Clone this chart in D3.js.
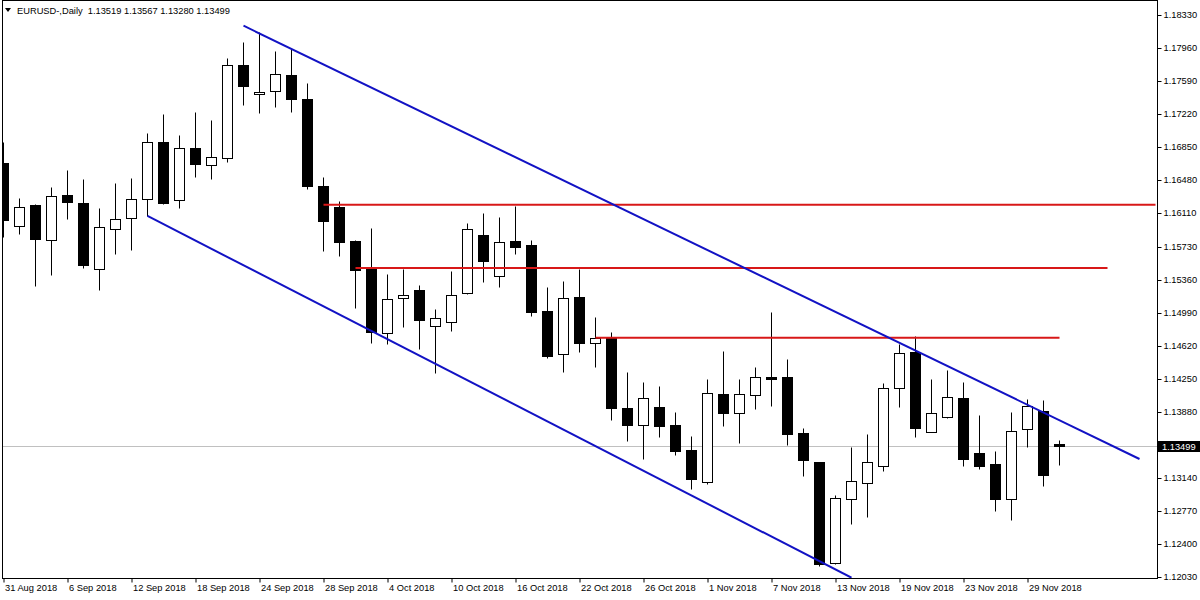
<!DOCTYPE html>
<html><head><meta charset="utf-8">
<script src="https://cdn.jsdelivr.net/npm/d3@7"></script>
<style>
html,body{margin:0;padding:0;background:#fff;overflow:hidden;}
svg{display:block;}
text{font-family:"Liberation Sans",Arial,sans-serif;font-size:9.3px;fill:#000;}
</style></head><body>
<svg id="chart" width="1200" height="600"></svg>
<script>
// ---- data ----
const dates = ["31 Aug 2018",
 "3 Sep 2018","4 Sep 2018","5 Sep 2018","6 Sep 2018","7 Sep 2018","10 Sep 2018","11 Sep 2018","12 Sep 2018","13 Sep 2018","14 Sep 2018",
 "17 Sep 2018","18 Sep 2018","19 Sep 2018","20 Sep 2018","21 Sep 2018","24 Sep 2018","25 Sep 2018","26 Sep 2018","27 Sep 2018","28 Sep 2018",
 "1 Oct 2018","2 Oct 2018","3 Oct 2018","4 Oct 2018","5 Oct 2018","8 Oct 2018","9 Oct 2018","10 Oct 2018","11 Oct 2018","12 Oct 2018",
 "15 Oct 2018","16 Oct 2018","17 Oct 2018","18 Oct 2018","19 Oct 2018","22 Oct 2018","23 Oct 2018","24 Oct 2018","25 Oct 2018","26 Oct 2018",
 "29 Oct 2018","30 Oct 2018","31 Oct 2018","1 Nov 2018","2 Nov 2018","5 Nov 2018","6 Nov 2018","7 Nov 2018","8 Nov 2018","9 Nov 2018",
 "12 Nov 2018","13 Nov 2018","14 Nov 2018","15 Nov 2018","16 Nov 2018","19 Nov 2018","20 Nov 2018","21 Nov 2018","22 Nov 2018","23 Nov 2018",
 "26 Nov 2018","27 Nov 2018","28 Nov 2018","29 Nov 2018","30 Nov 2018","3 Dec 2018"];
const open  = [1.16668,1.15968,1.16200,1.15811,1.16309,1.16223,1.15486,1.15934,1.16058,1.16262,
 1.16903,1.16251,1.16839,1.16643,1.16724,1.17770,1.17441,1.17481,1.17654,1.17385,
 1.16413,1.16174,1.15797,1.15491,1.14762,1.15154,1.15247,1.14847,1.14892,1.15217,
 1.15864,1.15408,1.15797,1.15752,1.15012,1.14526,1.15169,1.14650,1.14711,1.13925,
 1.13737,1.13936,1.13734,1.13454,1.13098,1.14081,1.13872,1.14074,1.14269,1.14272,
 1.13644,1.13319,1.12190,1.12908,1.13080,1.13271,1.14145,1.14552,1.13652,1.13827,
 1.14037,1.13420,1.13297,1.12901,1.13686,1.13891,1.13519];
const high  = [1.16910,1.16275,1.16211,1.16402,1.16592,1.16492,1.16163,1.16447,1.16499,1.17004,
 1.17220,1.16981,1.17243,1.17153,1.17846,1.18027,1.18136,1.17926,1.17960,1.17568,
 1.16514,1.16242,1.15808,1.15939,1.15423,1.15483,1.15303,1.15034,1.15460,1.16002,
 1.16110,1.16066,1.16192,1.15804,1.15281,1.15348,1.15486,1.14945,1.14773,1.14328,
 1.14216,1.14171,1.13880,1.13614,1.14250,1.14563,1.14250,1.14384,1.15001,1.14474,
 1.13700,1.13319,1.12949,1.13487,1.13630,1.14205,1.14639,1.14728,1.14250,1.14350,
 1.14216,1.13846,1.13442,1.13880,1.14025,1.14014,1.13567];
const low   = [1.15845,1.15878,1.15295,1.15415,1.16043,1.15497,1.15247,1.15651,1.15696,1.16077,
 1.16206,1.16170,1.16517,1.16495,1.16686,1.17324,1.17235,1.17302,1.17246,1.16383,
 1.15688,1.15632,1.15049,1.14650,1.14639,1.14836,1.14586,1.14320,1.14791,1.15206,
 1.15340,1.15281,1.15654,1.14959,1.14488,1.14331,1.14556,1.14387,1.13793,1.13558,
 1.13356,1.13603,1.13401,1.13020,1.13073,1.13726,1.13532,1.13917,1.13947,1.13513,
 1.13166,1.12157,1.12172,1.12628,1.12706,1.13222,1.13939,1.13596,1.13650,1.13816,
 1.13278,1.13244,1.12773,1.12672,1.13491,1.13054,1.13280];
const close = [1.16032,1.16174,1.15819,1.16298,1.16237,1.15528,1.15950,1.16040,1.16264,1.16903,
 1.16226,1.16836,1.16663,1.16736,1.17767,1.17537,1.17467,1.17665,1.17388,1.16408,
 1.16024,1.15782,1.15468,1.14780,1.15143,1.15188,1.14914,1.14930,1.15188,1.15928,
 1.15576,1.15785,1.15733,1.15004,1.14511,1.15155,1.14648,1.14706,1.13928,1.13737,
 1.14037,1.13726,1.13446,1.13132,1.14089,1.13872,1.14078,1.14269,1.14253,1.13633,
 1.13345,1.12176,1.12912,1.13103,1.13316,1.14145,1.14538,1.13704,1.13865,1.14044,
 1.13356,1.13278,1.12908,1.13663,1.13944,1.13177,1.13499];
const yTickValues = [1.18330,1.17960,1.17590,1.17220,1.16850,1.16480,1.16110,1.15730,1.15360,
 1.14990,1.14620,1.14250,1.13880,1.13140,1.12770,1.12400,1.12030];
const xTickIndex = [0,4,8,12,16,20,24,28,32,36,40,44,48,52,56,60,64];
const symbolTitle = "EURUSD-,Daily";
const lastQuote = ["1.13519","1.13567","1.13280","1.13499"];
const currentPrice = 1.13499;
// trendlines: [bar index, price]
const upperChannel = [[15,1.18210],[71,1.13353]];
const lowerChannel = [[9,1.16077],[53,1.12022]];
// horizontal levels: [price, from bar, to bar]
const levels = [[1.16204,20,72],[1.15494,22,69],[1.14713,37,66]];

// ---- drawing ----
const svg = d3.select("#chart");
const plot = {left:2.5, top:0.5, right:1157.5, bottom:578.5};
const x = d3.scaleLinear().domain([0,1]).range([3.5,19.5]);
const y = d3.scaleLinear().domain([1.1203,1.1833]).range([577,15]);

svg.append("rect").attr("width",1200).attr("height",600).attr("fill","#fff");

svg.append("defs").append("clipPath").attr("id","clip")
  .append("rect").attr("x",plot.left+0.5).attr("y",plot.top+0.5)
  .attr("width",plot.right-plot.left-1).attr("height",plot.bottom-plot.top-1);

const g = svg.append("g").attr("clip-path","url(#clip)");

// current price line (background)
g.append("line")
  .attr("x1",plot.left).attr("x2",plot.right)
  .attr("y1",Math.round(y(currentPrice))+0.5).attr("y2",Math.round(y(currentPrice))+0.5)
  .attr("stroke","#c0c0c0").attr("stroke-width",1);

const idx = d3.range(open.length);
const snap = v => Math.round(v)+0.5;

const candles = g.append("g").selectAll("g").data(idx).join("g");
candles.append("line")
  .attr("x1",i=>x(i)).attr("x2",i=>x(i))
  .attr("y1",i=>snap(y(high[i]))).attr("y2",i=>snap(y(low[i])))
  .attr("stroke","#000").attr("stroke-width",1);
candles.append("rect")
  .attr("x",i=>x(i)-5).attr("width",10)
  .attr("y",i=>snap(y(Math.max(open[i],close[i]))))
  .attr("height",i=>Math.max(1,snap(y(Math.min(open[i],close[i])))-snap(y(Math.max(open[i],close[i])))))
  .attr("fill",i=>close[i]<open[i]?"#000":"#fff")
  .attr("stroke","#000").attr("stroke-width",1);

// horizontal levels
g.append("g").selectAll("line").data(levels).join("line")
  .attr("x1",d=>x(d[1])).attr("x2",d=>x(d[2]))
  .attr("y1",d=>y(d[0])).attr("y2",d=>y(d[0]))
  .attr("stroke","#d81818").attr("stroke-width",2);

// channel lines
const line = d3.line().x(d=>x(d[0])).y(d=>y(d[1]));
[upperChannel,lowerChannel].forEach(c=>{
  g.append("path").attr("d",line(c)).attr("fill","none")
   .attr("stroke","#1212c4").attr("stroke-width",2);
});

// frame
svg.append("rect").attr("x",plot.left).attr("y",plot.top)
  .attr("width",plot.right-plot.left).attr("height",plot.bottom-plot.top)
  .attr("fill","none").attr("stroke","#000").attr("stroke-width",1);

// y axis (right)
const yAxis = d3.axisRight(y).tickValues(yTickValues).tickFormat(d3.format(".5f"))
  .tickSize(4).tickSizeOuter(0).tickPadding(2);
const ya = svg.append("g").attr("transform",`translate(${plot.right},0)`).call(yAxis);
ya.select(".domain").remove();
ya.selectAll(".tick line").attr("stroke","#000");
ya.selectAll(".tick text").attr("font-family",null).attr("font-size",null).attr("fill","#000");
ya.selectAll(".tick").attr("transform",d=>`translate(0,${snap(y(d))})`);

// current price label
const cy = Math.round(y(currentPrice))+0.5;
svg.append("rect").attr("x",1158).attr("y",cy-5.5).attr("width",42).attr("height",11).attr("fill","#000");
svg.append("text").attr("x",1162).attr("y",cy).attr("dy","0.35em")
  .style("fill","#fff").text(d3.format(".5f")(currentPrice));

// x axis
const xAxis = d3.axisBottom(x).tickValues(xTickIndex).tickFormat(i=>dates[i])
  .tickSize(4).tickSizeOuter(0).tickPadding(2);
const xa = svg.append("g").attr("transform",`translate(0,${plot.bottom})`).call(xAxis);
xa.select(".domain").remove();
xa.selectAll(".tick line").attr("stroke","#000");
xa.selectAll(".tick text").attr("font-family",null).attr("font-size",null)
  .attr("text-anchor","start").attr("x",1).attr("dy","0.71em").attr("fill","#000");

// title
svg.append("path").attr("d","M5,8 L11,8 L8,12 Z").attr("fill","#000");
svg.append("text").attr("x",17).attr("y",14).style("white-space","pre")
  .text(symbolTitle + "  " + lastQuote.join(" "));
</script>
</body></html>
